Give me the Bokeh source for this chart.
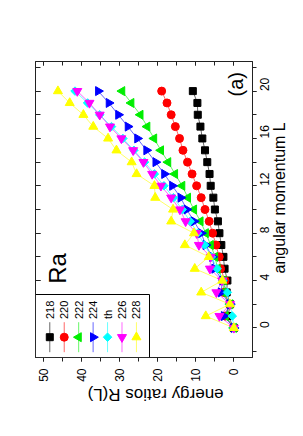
import math
from bokeh.plotting import figure
from bokeh.models import (Range1d, LinearAxis, SingleIntervalTicker, FixedTicker, Label, BoxAnnotation,
                          CustomJSTickFormatter)
from bokeh.embed import file_html
from bokeh.resources import INLINE

# ---------------- data ----------------
L = list(range(21))
r218 = [0, 1.5, 1, 1.9, 1.7, 2.45, 2.75, 3.3, 3.8, 4.2, 5.0, 5.4, 6.1, 6.4, 7.0, 7.6, 8.3, 8.8, 9.5, 9.6, 10.8]
r220 = [0, 2.3, 1, 2.65, 2.3, 3.5, 3.85, 4.7, 5.6, 6.5, 7.6, 8.6, 9.8, 11.0, 12.2, 13.4, 14.3, 15.4, 16.5, 17.6, 19.0]
r222 = [0, 2.2, 1, 2.85, 2.7, 4.3, 4.95, 6.1, 7.4, 8.8, 10.5, 12.1, 13.6, 15.5, 17.3, 19.2, 21.0, 22.8, 24.6, 27.0, 29.4]
r224 = [0, 2.6, 1, 3.4, 3.0, 5.1, 5.7, 7.4, 8.6, 10.5, 12.4, 14.0, 16.2, 18.3, 20.6, 23.0, 25.4, 27.9, 30.4, 32.9, 35.7]
rth = [0, 0.4, 1, 1.7, 2.9, 4.4, 5.9, 7.7, 9.5, 11.5, 13.6, 15.9, 18.4, 20.9, 23.5, 26.3, 29.2, 32.2, 35.3, 38.5, 41.8]
r226 = [0, 3.8, 1, 4.6, 3.1, 6.3, 6.1, 9.2, 9.8, 12.7, 14.2, 16.5, 19.2, 21.5, 23.8, 26.5, 29.6, 32.6, 35.3, 38.0, 41.2]
r228 = [0, 7.4, 1.05, 8.6, 3.05, 10.3, 6.6, 12.9, 10.5, 16.5, 16.0, 20.7, 20.9, 25.6, 26.9, 30.9, 33.1, 37.0, 39.6, 43.2, 46.3]

labels = ["218", "220", "222", "224", "th", "226", "228"]
series = [r218, r220, r222, r224, rth, r226, r228]
x_title = "energy ratios R(L)"
y_title = "angular momentum L"

# styles: colour, marker, angle, size
styles = [
    ("black", "square", 0.0, 7),
    ("red", "circle", 0.0, 8),
    ("#00ee00", "triangle", math.pi / 2, 9),
    ("blue", "triangle", -math.pi / 2, 9),
    ("cyan", "square", math.pi / 4, 6),
    ("magenta", "inverted_triangle", 0.0, 9),
    ("yellow", "triangle", 0.0, 9),
]

FONT = "Liberation Sans"
AX = "#222222"

p = figure(width=303, height=428, output_backend="svg", toolbar_location=None,
           x_range=Range1d(52.2, -4.9), y_range=Range1d(-2.5, 22.5),
           x_axis_location="below", y_axis_location="right",
           min_border_left=35, min_border_right=51, min_border_top=61, min_border_bottom=71)
p.grid.visible = False
p.outline_line_color = AX
p.outline_line_width = 1
p.background_fill_color = "white"
p.border_fill_color = "white"

xt = SingleIntervalTicker(interval=10, num_minor_ticks=2)
yt = SingleIntervalTicker(interval=4, num_minor_ticks=2)

xa = p.xaxis[0]
ya = p.yaxis[0]
xa.ticker = xt
ya.ticker = yt
for ax in (xa, ya):
    ax.major_label_orientation = math.pi / 2
    ax.major_label_text_font = FONT
    ax.major_label_text_font_size = "12px"
    ax.major_label_text_color = "black"
    ax.major_tick_out = 4
    ax.major_tick_in = 0
    ax.minor_tick_out = 4
    ax.minor_tick_in = 0
    ax.axis_line_color = AX
    ax.major_tick_line_color = AX
    ax.minor_tick_line_color = AX
xa.major_label_standoff = 7
ya.major_label_standoff = 8
ya.major_label_text_align = "center"

# axis titles, carried by single-tick axes so they can be rotated and placed
xtitle_ax = LinearAxis(ticker=FixedTicker(ticks=[38.5], minor_ticks=[]),
                       formatter=CustomJSTickFormatter(args=dict(t=x_title), code="return t"),
                       major_label_orientation=math.pi, major_label_text_font=FONT,
                       major_label_text_font_size="17px", major_label_text_color="black",
                       major_label_standoff=10, major_tick_out=0, major_tick_in=0,
                       axis_line_color=None, major_tick_line_color=None, minor_tick_line_color=None)
p.add_layout(xtitle_ax, "below")
ytitle_ax = LinearAxis(ticker=FixedTicker(ticks=[4.6], minor_ticks=[]),
                       formatter=CustomJSTickFormatter(args=dict(t=y_title), code="return t"),
                       major_label_orientation=math.pi / 2, major_label_text_font=FONT,
                       major_label_text_font_size="16px", major_label_text_color="black",
                       major_label_standoff=3, major_tick_out=0, major_tick_in=0,
                       axis_line_color=None, major_tick_line_color=None, minor_tick_line_color=None)
p.add_layout(ytitle_ax, "right")

# mirror ticks on the other two sides
blank = CustomJSTickFormatter(code="return ''")
top_ax = LinearAxis(ticker=xt, formatter=blank, major_tick_in=4, major_tick_out=0,
                    minor_tick_in=4, minor_tick_out=0, axis_line_color=AX,
                    major_tick_line_color=AX, minor_tick_line_color=AX)
p.add_layout(top_ax, "above")
left_ax = LinearAxis(ticker=yt, formatter=blank, major_tick_in=5, major_tick_out=0,
                     minor_tick_in=5, minor_tick_out=0, axis_line_color=AX,
                     major_tick_line_color=AX, minor_tick_line_color=AX)
p.add_layout(left_ax, "left")

# ---------------- data glyphs ----------------
for vals, (col, mk, ang, sz) in zip(series, styles):
    p.line(x=vals, y=L, line_color=col, line_width=1, line_alpha=0.6)
for vals, (col, mk, ang, sz) in zip(series, styles):
    p.scatter(x=vals, y=L, marker=mk, angle=ang, size=sz, fill_color=col, line_color=col)

# ---------------- legend (rotated) ----------------
box = BoxAnnotation(left=52.2, right=22.2, bottom=-2.5, top=2.82, fill_color="white", fill_alpha=1,
                    line_color="black", line_width=1, line_alpha=1)
p.add_layout(box)

lx0, ldx = 48.44, 3.80
for i, (name, (col, mk, ang, sz)) in enumerate(zip(labels, styles)):
    lx = lx0 - i * ldx
    p.line(x=[lx, lx], y=[0.48, -2.05], line_color=col, line_width=1, line_alpha=0.6, level="overlay")
    p.scatter(x=[lx], y=[-0.785], marker=mk, angle=ang, size=sz, fill_color=col, line_color=col,
              level="overlay")
    p.add_layout(Label(x=lx, y=0.75, text=name, angle=math.pi / 2, text_font=FONT,
                       text_font_size="11px", text_align="left", text_baseline="middle",
                       text_color="black"))

# ---------------- texts ----------------
p.add_layout(Label(x=46.5, y=5.02, text="Ra", angle=math.pi / 2, text_font=FONT, text_font_size="24px",
                   text_align="center", text_baseline="middle", text_color="black"))
p.add_layout(Label(x=-0.56, y=20.58, text="(a)", angle=math.pi / 2, text_font=FONT, text_font_size="20px",
                   text_align="center", text_baseline="middle", text_color="black"))

open("out.html", "w").write(file_html(p, INLINE))
